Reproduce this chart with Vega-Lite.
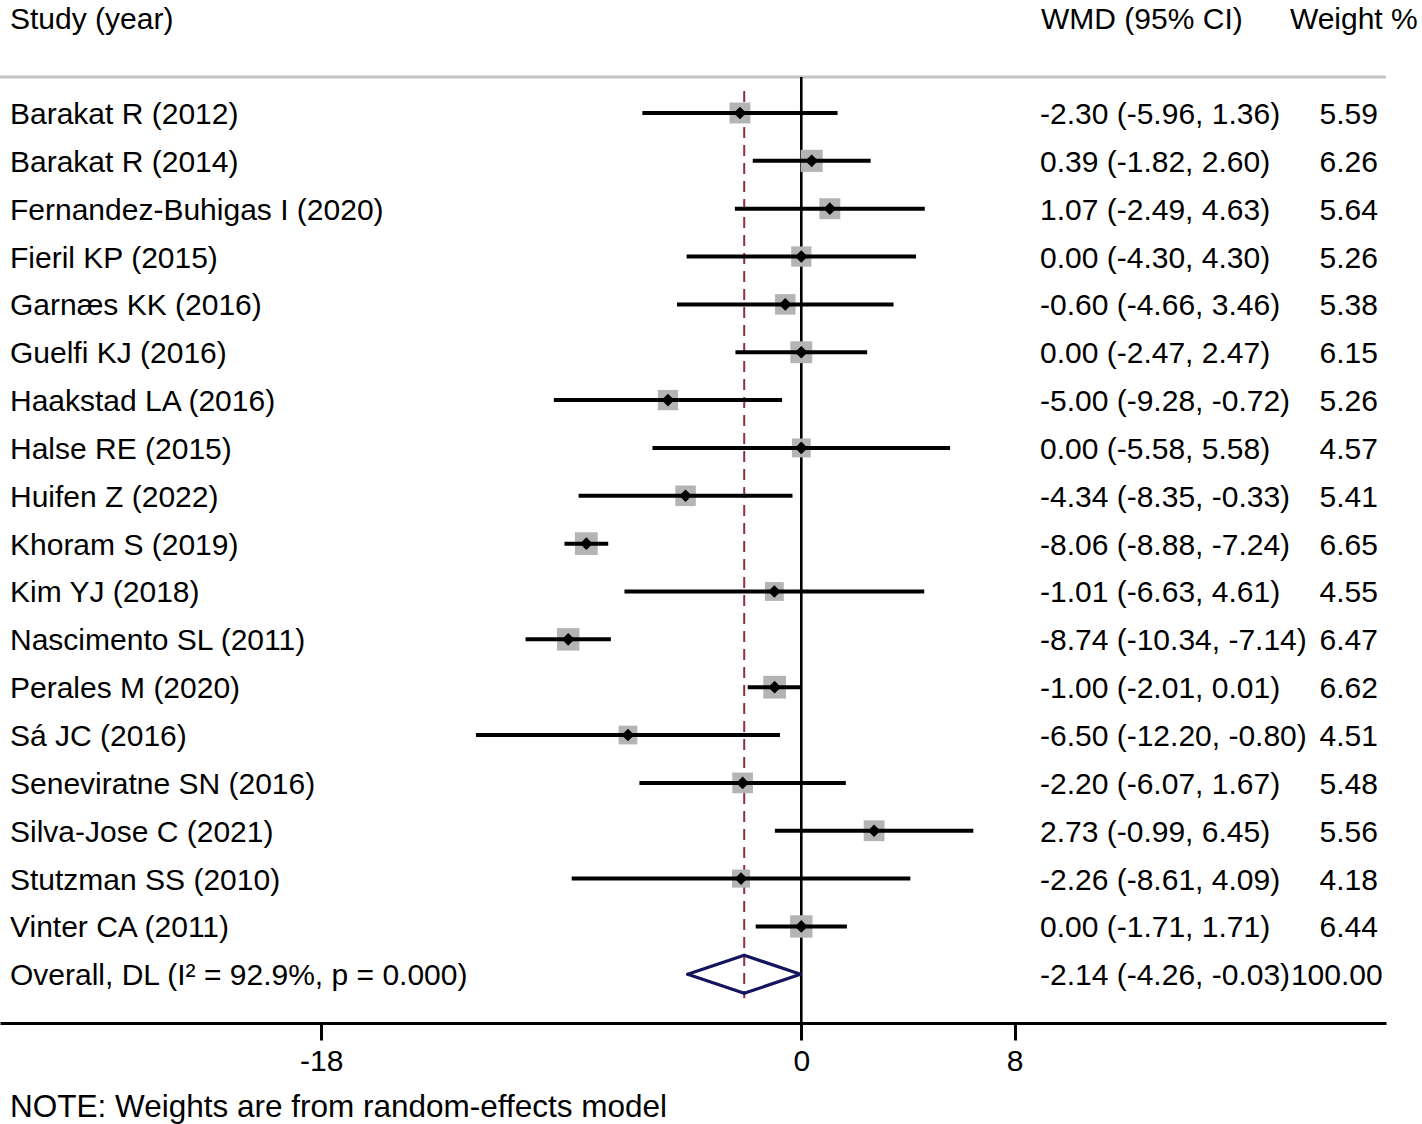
{
  "$schema": "https://vega.github.io/schema/vega-lite/v6.json",
  "width": 1386,
  "height": 946,
  "autosize": {"type": "none"},
  "padding": {"left": 0, "top": 77, "right": 36, "bottom": 101},
  "config": {
    "view": {"stroke": null},
    "font": "Liberation Sans",
    "text": {"font": "Liberation Sans", "fontSize": 30, "color": "#000000", "baseline": "middle", "dy": 2},
    "axisX": {
      "domainColor": "#000000",
      "domainWidth": 3,
      "tickColor": "#000000",
      "tickWidth": 3,
      "tickSize": 17,
      "labelFont": "Liberation Sans",
      "labelFontSize": 30,
      "labelColor": "#000000",
      "labelPadding": 6,
      "labelFlush": false,
      "grid": false
    }
  },
  "datasets": {
    "rows": [
      {"row": 1, "type": "study", "study": "Barakat R (2012)", "est": -2.30, "lci": -5.96, "uci": 1.36, "weight": 5.59, "wmd": "-2.30 (-5.96, 1.36)"},
      {"row": 2, "type": "study", "study": "Barakat R (2014)", "est": 0.39, "lci": -1.82, "uci": 2.60, "weight": 6.26, "wmd": "0.39 (-1.82, 2.60)"},
      {"row": 3, "type": "study", "study": "Fernandez-Buhigas I (2020)", "est": 1.07, "lci": -2.49, "uci": 4.63, "weight": 5.64, "wmd": "1.07 (-2.49, 4.63)"},
      {"row": 4, "type": "study", "study": "Fieril KP (2015)", "est": 0.00, "lci": -4.30, "uci": 4.30, "weight": 5.26, "wmd": "0.00 (-4.30, 4.30)"},
      {"row": 5, "type": "study", "study": "Garnæs KK (2016)", "est": -0.60, "lci": -4.66, "uci": 3.46, "weight": 5.38, "wmd": "-0.60 (-4.66, 3.46)"},
      {"row": 6, "type": "study", "study": "Guelfi KJ (2016)", "est": 0.00, "lci": -2.47, "uci": 2.47, "weight": 6.15, "wmd": "0.00 (-2.47, 2.47)"},
      {"row": 7, "type": "study", "study": "Haakstad LA (2016)", "est": -5.00, "lci": -9.28, "uci": -0.72, "weight": 5.26, "wmd": "-5.00 (-9.28, -0.72)"},
      {"row": 8, "type": "study", "study": "Halse RE (2015)", "est": 0.00, "lci": -5.58, "uci": 5.58, "weight": 4.57, "wmd": "0.00 (-5.58, 5.58)"},
      {"row": 9, "type": "study", "study": "Huifen Z (2022)", "est": -4.34, "lci": -8.35, "uci": -0.33, "weight": 5.41, "wmd": "-4.34 (-8.35, -0.33)"},
      {"row": 10, "type": "study", "study": "Khoram S (2019)", "est": -8.06, "lci": -8.88, "uci": -7.24, "weight": 6.65, "wmd": "-8.06 (-8.88, -7.24)"},
      {"row": 11, "type": "study", "study": "Kim YJ (2018)", "est": -1.01, "lci": -6.63, "uci": 4.61, "weight": 4.55, "wmd": "-1.01 (-6.63, 4.61)"},
      {"row": 12, "type": "study", "study": "Nascimento SL (2011)", "est": -8.74, "lci": -10.34, "uci": -7.14, "weight": 6.47, "wmd": "-8.74 (-10.34, -7.14)"},
      {"row": 13, "type": "study", "study": "Perales M (2020)", "est": -1.00, "lci": -2.01, "uci": 0.01, "weight": 6.62, "wmd": "-1.00 (-2.01, 0.01)"},
      {"row": 14, "type": "study", "study": "Sá JC (2016)", "est": -6.50, "lci": -12.20, "uci": -0.80, "weight": 4.51, "wmd": "-6.50 (-12.20, -0.80)"},
      {"row": 15, "type": "study", "study": "Seneviratne SN (2016)", "est": -2.20, "lci": -6.07, "uci": 1.67, "weight": 5.48, "wmd": "-2.20 (-6.07, 1.67)"},
      {"row": 16, "type": "study", "study": "Silva-Jose C (2021)", "est": 2.73, "lci": -0.99, "uci": 6.45, "weight": 5.56, "wmd": "2.73 (-0.99, 6.45)"},
      {"row": 17, "type": "study", "study": "Stutzman SS (2010)", "est": -2.26, "lci": -8.61, "uci": 4.09, "weight": 4.18, "wmd": "-2.26 (-8.61, 4.09)"},
      {"row": 18, "type": "study", "study": "Vinter CA (2011)", "est": 0.00, "lci": -1.71, "uci": 1.71, "weight": 6.44, "wmd": "0.00 (-1.71, 1.71)"},
      {"row": 19, "type": "overall", "study": "Overall, DL (I² = 92.9%, p = 0.000)", "est": -2.14, "lci": -4.26, "uci": -0.03, "weight": 100.00, "wmd": "-2.14 (-4.26, -0.03)"}
    ]
  },
  "data": {"name": "rows"},
  "layer": [
    {
      "data": {"values": [{"k": 1}]},
      "mark": {"type": "rule", "color": "#c4c4c4", "strokeWidth": 3},
      "encoding": {
        "y": {"datum": 0.2477, "type": "quantitative", "scale": {"domain": [0.2477, 20.018], "reverse": true, "nice": false, "zero": false}, "axis": null}
      }
    },
    {
      "data": {"values": [{"k": 1}]},
      "mark": {"type": "rule", "color": "#000000", "strokeWidth": 2.6},
      "encoding": {
        "x": {"datum": 0, "type": "quantitative", "scale": {"domain": [-30.045, 21.924], "nice": false, "zero": false}, "axis": {"values": [-18, 0, 8], "title": null, "labelExpr": "datum.value < 0 ? '-' + abs(datum.value) : '' + datum.value"}}
      }
    },
    {
      "transform": [{"filter": "datum.type === 'overall'"}],
      "mark": {"type": "rule", "color": "#902d3e", "strokeWidth": 2, "strokeDash": [11, 7]},
      "encoding": {
        "x": {"field": "est", "type": "quantitative", "title": null},
        "y": {"datum": 0.54, "type": "quantitative", "axis": null},
        "y2": {"datum": 19.5}
      }
    },
    {
      "transform": [{"filter": "datum.type === 'study'"}],
      "mark": {"type": "point", "shape": "square", "filled": true, "color": "#b4b4b4", "opacity": 1},
      "encoding": {
        "x": {"field": "est", "type": "quantitative", "title": null},
        "y": {"field": "row", "type": "quantitative", "axis": null},
        "size": {"field": "weight", "type": "quantitative", "scale": {"type": "linear", "domain": [0, 10], "range": [0, 780], "zero": true}, "legend": null}
      }
    },
    {
      "transform": [{"filter": "datum.type === 'study'"}],
      "mark": {"type": "rule", "color": "#000000", "strokeWidth": 4},
      "encoding": {
        "x": {"field": "lci", "type": "quantitative", "title": null},
        "x2": {"field": "uci"},
        "y": {"field": "row", "type": "quantitative", "axis": null}
      }
    },
    {
      "transform": [{"filter": "datum.type === 'study'"}],
      "mark": {"type": "point", "shape": "diamond", "filled": true, "color": "#000000", "opacity": 1, "size": 160},
      "encoding": {
        "x": {"field": "est", "type": "quantitative", "title": null},
        "y": {"field": "row", "type": "quantitative", "axis": null}
      }
    },
    {
      "transform": [{"filter": "datum.type === 'overall'"}],
      "mark": {"type": "rule", "color": "#14145f", "strokeWidth": 3.2, "strokeCap": "round", "y2Offset": -19},
      "encoding": {
        "x": {"field": "lci", "type": "quantitative", "title": null},
        "x2": {"field": "est"},
        "y": {"field": "row", "type": "quantitative", "axis": null},
        "y2": {"field": "row"}
      }
    },
    {
      "transform": [{"filter": "datum.type === 'overall'"}],
      "mark": {"type": "rule", "color": "#14145f", "strokeWidth": 3.2, "strokeCap": "round", "yOffset": -19},
      "encoding": {
        "x": {"field": "est", "type": "quantitative", "title": null},
        "x2": {"field": "uci"},
        "y": {"field": "row", "type": "quantitative", "axis": null},
        "y2": {"field": "row"}
      }
    },
    {
      "transform": [{"filter": "datum.type === 'overall'"}],
      "mark": {"type": "rule", "color": "#14145f", "strokeWidth": 3.2, "strokeCap": "round", "y2Offset": 19},
      "encoding": {
        "x": {"field": "lci", "type": "quantitative", "title": null},
        "x2": {"field": "est"},
        "y": {"field": "row", "type": "quantitative", "axis": null},
        "y2": {"field": "row"}
      }
    },
    {
      "transform": [{"filter": "datum.type === 'overall'"}],
      "mark": {"type": "rule", "color": "#14145f", "strokeWidth": 3.2, "strokeCap": "round", "yOffset": 19},
      "encoding": {
        "x": {"field": "est", "type": "quantitative", "title": null},
        "x2": {"field": "uci"},
        "y": {"field": "row", "type": "quantitative", "axis": null},
        "y2": {"field": "row"}
      }
    },
    {
      "mark": {"type": "text", "align": "left"},
      "encoding": {
        "x": {"datum": -29.67, "type": "quantitative"},
        "y": {"field": "row", "type": "quantitative", "axis": null},
        "text": {"field": "study"}
      }
    },
    {
      "mark": {"type": "text", "align": "left"},
      "encoding": {
        "x": {"datum": 8.95, "type": "quantitative"},
        "y": {"field": "row", "type": "quantitative", "axis": null},
        "text": {"field": "wmd"}
      }
    },
    {
      "transform": [{"filter": "datum.type === 'study'"}],
      "mark": {"type": "text", "align": "right"},
      "encoding": {
        "x": {"datum": 21.62, "type": "quantitative"},
        "y": {"field": "row", "type": "quantitative", "axis": null},
        "text": {"field": "weight", "format": ".2f"}
      }
    },
    {
      "transform": [{"filter": "datum.type === 'overall'"}],
      "mark": {"type": "text", "align": "right"},
      "encoding": {
        "x": {"datum": 21.8, "type": "quantitative"},
        "y": {"field": "row", "type": "quantitative", "axis": null},
        "text": {"field": "weight", "format": ".2f"}
      }
    },
    {
      "data": {"values": [{"h": "Study (year)"}]},
      "mark": {"type": "text", "align": "left"},
      "encoding": {
        "x": {"datum": -29.67, "type": "quantitative"},
        "y": {"datum": -0.985, "type": "quantitative", "axis": null},
        "text": {"field": "h"}
      }
    },
    {
      "data": {"values": [{"h": "WMD (95% CI)"}]},
      "mark": {"type": "text", "align": "left"},
      "encoding": {
        "x": {"datum": 8.99, "type": "quantitative"},
        "y": {"datum": -0.985, "type": "quantitative", "axis": null},
        "text": {"field": "h"}
      }
    },
    {
      "data": {"values": [{"h": "Weight %"}]},
      "mark": {"type": "text", "align": "left"},
      "encoding": {
        "x": {"datum": 18.32, "type": "quantitative"},
        "y": {"datum": -0.985, "type": "quantitative", "axis": null},
        "text": {"field": "h"}
      }
    },
    {
      "data": {"values": [{"h": "NOTE: Weights are from random-effects model"}]},
      "mark": {"type": "text", "align": "left", "fontSize": 31.5},
      "encoding": {
        "x": {"datum": -29.67, "type": "quantitative"},
        "y": {"datum": 21.75, "type": "quantitative", "axis": null},
        "text": {"field": "h"}
      }
    }
  ]
}
